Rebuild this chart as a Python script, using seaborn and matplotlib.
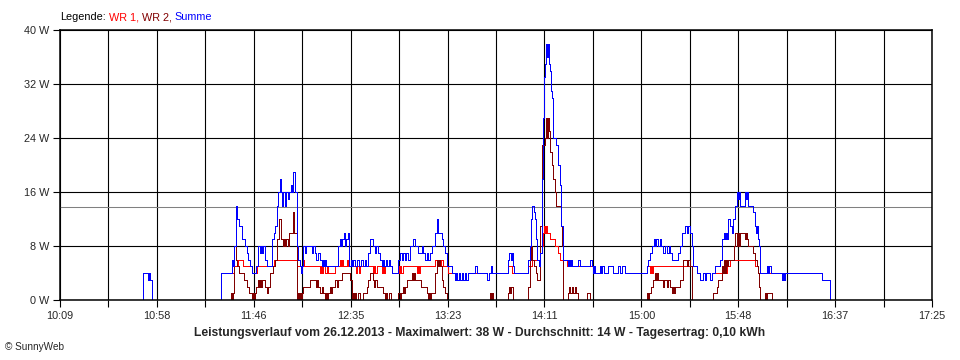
import numpy as np
import pandas as pd
import matplotlib
matplotlib.use("Agg")
import matplotlib.pyplot as plt
import seaborn as sns

# (minutes after 10:09, W) step points
summe = [
    (0, 0), (41.5, 4), (44, 3), (44.5, 4), (45, 3), (46, 0),
    (80.5, 4), (85.8, 6), (86.5, 5), (87.2, 8), (88, 14), (88.7, 12), (89.5, 11), (90.8, 9), (92.5, 8),
    (93.5, 7), (94.2, 6), (95, 5), (95.8, 4), (98, 5), (99.2, 8), (100, 7), (100.5, 8), (101, 7),
    (101.5, 8), (102.5, 6), (103.5, 5), (105.8, 9), (107, 10), (107.5, 11), (108.3, 14), (109.2, 16),
    (110, 18), (110.7, 16), (111.2, 14), (111.7, 16), (112.5, 14), (113, 16), (114, 15), (114.5, 16),
    (115.5, 17), (116, 16), (116.7, 19), (117.5, 16), (118.3, 8), (119.2, 6), (120, 5), (120.5, 4),
    (121, 5), (121.7, 8), (122.5, 7), (123, 8), (125.8, 7), (126.5, 8), (127.5, 7), (128, 6), (129, 7),
    (130, 6), (130.8, 5), (131.3, 6), (131.8, 5), (132.3, 6), (132.8, 5), (139.2, 8), (140, 9),
    (140.5, 8), (141, 9), (142, 10), (142.5, 8), (143, 9), (144, 10), (144.7, 5), (145.5, 6), (146, 5),
    (146.5, 6), (147.5, 5), (148.5, 6), (149.5, 5), (150.5, 6), (151.5, 5), (152.3, 6), (153, 5),
    (154.2, 7), (155, 9), (156.7, 8), (157.5, 7), (158, 8), (159, 7), (160, 6), (161, 5), (161.5, 6),
    (162, 5), (163, 6), (163.5, 5), (164.5, 6), (165, 5), (165.8, 4), (169.2, 6), (170, 7), (171, 6),
    (171.5, 7), (172.5, 6), (173, 7), (174, 6), (175, 8), (176.7, 9), (177.5, 8), (179.2, 7),
    (180.8, 8), (181.7, 7), (182.5, 6), (183.3, 7), (184, 6), (185, 7), (185.8, 8), (187.5, 10),
    (188.3, 12), (189.2, 10), (190.8, 9), (191.5, 8), (192.5, 7), (193.3, 5), (195.8, 4), (197.5, 3),
    (198, 4), (198.5, 3), (199.5, 4), (200, 3), (201, 4), (201.5, 3), (202.5, 4), (203, 3), (204, 4),
    (207.5, 5), (208.3, 4), (213.5, 3), (214.5, 4), (215.5, 5), (216, 4),
    (224.2, 6), (224.7, 7), (225.3, 6), (226, 7), (226.5, 5), (227, 4), (234.2, 6), (235, 8),
    (235.5, 12), (236, 14), (237, 13), (237.5, 12), (238, 9), (238.7, 6), (239.3, 5), (240, 7),
    (240.8, 18), (241.5, 27), (241.8, 33), (242.3, 35), (243, 38), (243.5, 36), (244, 38), (244.5, 35),
    (245, 34), (245.5, 31), (246, 30), (246.7, 24), (248.2, 23), (249, 20), (250, 17), (250.7, 11),
    (251.5, 6), (254, 5), (254.5, 6), (255, 5), (255.5, 6), (256, 5), (259, 6), (260, 5), (265, 6),
    (266, 5), (266.5, 4), (267, 5), (267.5, 4), (270, 5), (270.5, 4), (271, 5), (272, 4), (274.2, 5),
    (276.7, 4), (279, 5), (280, 4), (281, 5), (282.5, 4),
    (293.3, 5), (294.2, 6), (295, 7), (296, 8), (297, 9), (297.5, 8), (298, 9), (299, 8), (300, 9),
    (300.5, 8), (301.7, 7), (302.5, 8), (303.5, 7), (304.5, 8), (305, 7), (306, 6), (309, 7),
    (310, 8), (311, 10), (312.5, 11), (313.3, 10), (314, 11), (315, 10), (316, 8), (316.7, 5),
    (318.3, 4), (320, 3), (321.7, 4), (322.3, 3), (323, 4), (325, 3), (326, 4), (327.5, 5), (330, 6),
    (331, 9), (332, 10), (332.5, 9), (333, 10), (333.5, 9), (334.2, 12), (335, 11), (335.8, 10),
    (336.7, 12), (337.5, 14), (338.3, 16), (339, 15), (339.5, 16), (340, 14), (342.5, 16), (343, 15),
    (343.5, 16), (344.2, 14), (346.7, 13), (347.5, 11), (348, 10), (348.5, 11), (349, 9), (349.5, 8),
    (350, 4), (353.3, 5), (354.2, 4), (354.7, 5), (355.3, 4), (361, 3), (361.7, 4), (362, 3),
    (362.5, 4), (381, 3), (385, 0),
]

wr1 = [
    (0, 0), (41.5, 4), (44, 3), (44.5, 4), (45, 3), (46, 0),
    (80.5, 4), (87, 5), (89, 6), (91.5, 5), (95.8, 4), (98.5, 5), (107, 6), (118.3, 5), (121.7, 6),
    (122.2, 5), (130, 4), (130.5, 5), (131, 4), (131.5, 5), (132.5, 4), (133.3, 5), (134, 4),
    (137.5, 5), (140, 6), (140.5, 5), (141, 6), (141.7, 5), (143.5, 6), (144.2, 5), (148, 4),
    (148.5, 5), (149.5, 4), (150, 5), (156.7, 4), (157.2, 5), (157.7, 4), (158.3, 5), (160.8, 4),
    (161.3, 5), (161.8, 4), (162.3, 5), (165.8, 4), (169.2, 5), (169.7, 4), (170.2, 5), (170.7, 4),
    (171.5, 5), (178.3, 4), (178.8, 5), (179.3, 4), (180, 5), (187.5, 6), (188.3, 5), (189, 6),
    (190, 5), (190.5, 6), (191.5, 5), (194.2, 4), (197.5, 3), (198, 4), (198.5, 3), (199.5, 4),
    (200, 3), (201, 4), (201.5, 3), (202.5, 4), (203, 3), (204, 4), (213.5, 3), (214.5, 4),
    (224.2, 5), (226, 4), (234.2, 5), (236, 6), (240, 7), (241, 8), (241.7, 10), (242.2, 11),
    (242.7, 10), (243.2, 11), (243.7, 10), (245, 9), (247.5, 8), (249, 7), (250, 6), (253.3, 5),
    (266, 5), (266.5, 4), (267, 5), (267.5, 4), (270, 5), (270.5, 4), (271, 5), (272, 4), (274.2, 5),
    (276.7, 4), (279, 5), (280, 4), (281, 5), (282.5, 4),
    (293.3, 5), (295, 4), (295.5, 5), (296, 4), (296.7, 5), (316.7, 5), (318.3, 4), (320, 3),
    (321.7, 4), (322.3, 3), (323, 4), (325, 3), (326, 4), (331.7, 5), (332.2, 4), (332.7, 6),
    (333.2, 4), (333.7, 6), (334.2, 5), (335, 6), (347.5, 5), (349.2, 4), (361, 3), (361.7, 4),
    (362, 3), (362.5, 4), (381, 3), (385, 0),
]

wr2 = [
    (0, 0), (85.5, 1), (86, 0), (86.5, 1), (87.2, 8), (88.2, 6), (88.7, 5), (89.5, 4), (92, 3),
    (93.5, 2), (94.5, 1), (95.8, 0), (96.3, 1), (96.8, 0), (97.3, 1), (98, 2), (99, 3), (99.5, 2),
    (100, 3), (100.5, 2), (101, 3), (102.5, 2), (103.5, 1), (104.2, 2), (105, 4), (106.7, 5),
    (107.5, 6), (108.3, 9), (109.5, 12), (110.3, 9), (111.7, 8), (112.2, 9), (112.7, 8), (113.2, 9),
    (114.2, 8), (114.7, 10), (116.5, 13), (117.2, 10), (118.3, 0), (118.8, 1), (119.3, 0), (119.8, 1),
    (120.5, 0), (121, 1), (121.7, 2), (125, 3), (128, 2), (128.5, 3), (129, 2), (130, 1), (130.8, 2),
    (131.3, 1), (132.5, 0), (133, 1), (133.5, 0), (134, 1), (135, 2), (135.5, 1), (136, 2),
    (137.5, 3), (138.3, 2), (139.2, 3), (140.8, 4), (145, 3), (145.8, 0), (146.3, 1), (146.8, 0),
    (147.5, 1), (148, 0), (149, 1), (150, 0), (151.5, 1), (153.3, 2), (154.2, 3), (155, 4),
    (156.7, 3), (157.2, 2), (157.7, 3), (158.5, 2), (161.7, 1), (162.5, 0), (163, 1), (163.5, 0),
    (164.5, 1), (165.3, 0), (169.2, 1), (170, 0), (170.5, 1), (171.5, 2), (172.2, 1), (172.7, 2),
    (173.5, 3), (176, 4), (176.7, 3), (177.2, 4), (177.7, 3), (180.5, 2), (183.3, 1), (184, 0),
    (184.5, 1), (185, 0), (185.5, 1), (187.5, 4), (188.3, 6), (188.8, 5), (189.3, 6), (190, 5),
    (190.8, 3), (191.5, 2), (192.5, 1), (193.3, 0), (215, 1), (215.5, 0), (216, 1), (216.7, 0),
    (224.2, 1), (224.7, 2), (225.2, 1), (225.7, 2), (226.3, 0), (234.2, 2), (234.8, 6), (235.3, 8),
    (236, 6), (237, 5), (238, 4), (238.7, 3), (240, 11), (241.2, 23), (242.5, 24), (243, 27),
    (243.5, 24), (244, 27), (244.5, 25), (245, 22), (246, 20), (246.7, 18), (247.3, 16), (248, 14),
    (250.3, 11), (250.8, 8), (251.5, 0), (254, 1), (254.5, 2), (255, 1), (256, 2), (256.5, 1),
    (257.5, 2), (258, 1), (259, 0), (263.3, 1), (265, 0), (293.3, 1), (293.8, 0), (294.3, 1),
    (295.5, 2), (296.7, 3), (297.5, 4), (298, 3), (298.5, 4), (299.2, 3), (301.7, 2), (302.2, 3),
    (303.3, 2), (303.8, 3), (305, 2), (305.8, 1), (306.3, 2), (306.8, 1), (307.5, 2), (310, 3),
    (311.7, 6), (313.3, 5), (314, 6), (315, 5), (316, 0), (326.7, 1), (328.3, 2), (329.2, 3),
    (330.8, 4), (331, 5), (331.7, 4), (332.2, 6), (332.7, 4), (333.2, 6), (333.7, 5), (334.2, 6),
    (337, 8), (337.5, 10), (338.5, 8), (339, 10), (339.5, 8), (340, 10), (342.5, 9), (343, 10),
    (343.5, 9), (344.2, 8), (346.7, 7), (347.3, 6), (348.3, 5), (349.2, 4), (349.6, 2), (350, 0),
    (352.5, 1), (353, 0), (353.5, 1), (355.8, 0),
]

tick_labels = ["10:09", "10:58", "11:46", "12:35", "13:23", "14:11", "15:00", "15:48", "16:37", "17:25"]
y_ticks = [0, 8, 16, 24, 32, 40]
durchschnitt = 13.75
span_minutes = 436

legend_parts = ["Legende:", "WR 1,", "WR 2,", "Summe"]
legend_colors = ["black", "#ff0000", "#800000", "#0000ff"]

sns.set_theme(style="white")
plt.rcParams["font.family"] = ["Liberation Sans", "DejaVu Sans"]

fig = plt.figure(figsize=(9.6, 3.6), dpi=100)
ax = fig.add_axes([60 / 960, 1 - 300 / 360, 872 / 960, 270 / 360])

# WR 1 first, WR 2 next, Summe on top
for pts, col in [(wr1, "#ff0000"), (wr2, "#800000"), (summe, "#0000ff")]:
    df = pd.DataFrame(pts, columns=["t", "w"])
    sns.lineplot(data=df, x="t", y="w", ax=ax, color=col, linewidth=0.7, drawstyle="steps-post",
                 estimator=None, sort=False, antialiased=False, zorder=2)

ax.axhline(durchschnitt, color="#808080", lw=0.75, zorder=1.5)

major = np.linspace(0, span_minutes, len(tick_labels))
minor = (major[:-1] + major[1:]) / 2
ax.set_xlim(0, span_minutes)
ax.set_ylim(0, 40)
ax.set_xticks(major)
ax.set_xticklabels(tick_labels)
ax.set_xticks(minor, minor=True)
ax.set_yticks(y_ticks)
ax.set_yticklabels([f"{v} W" for v in y_ticks])
ax.tick_params(axis="both", which="both", direction="out", length=5, width=0.8, color="black",
               labelsize=7.8, pad=3, bottom=True, left=True)
ax.grid(True, which="both", axis="x", color="black", lw=0.8)
ax.grid(True, which="major", axis="y", color="black", lw=0.8)
ax.set_axisbelow(True)
for s in ax.spines.values():
    s.set_color("black")
    s.set_linewidth(1.1)
    s.set_zorder(3)
ax.set_xlabel("")
ax.set_ylabel("")

fig.text(0.5, 1 - 333 / 360,
         "Leistungsverlauf vom 26.12.2013 - Maximalwert: 38 W - Durchschnitt: 14 W - Tagesertrag: 0,10 kWh",
         ha="center", va="center", fontsize=8.7, fontweight="bold")
fig.text(5 / 960, 1 - 347 / 360, "\u00a9 SunnyWeb", ha="left", va="center", fontsize=7.2)

fig.canvas.draw()
r = fig.canvas.get_renderer()
x = 60 / 960
for txt, col in zip(legend_parts, legend_colors):
    tt = fig.text(x, 1 - 17 / 360, txt, color=col, fontsize=7.8, ha="left", va="center")
    bb = tt.get_window_extent(renderer=r)
    x = (bb.x1 + 3) / fig.bbox.width

fig.savefig("out.png", dpi=100, facecolor="white")
